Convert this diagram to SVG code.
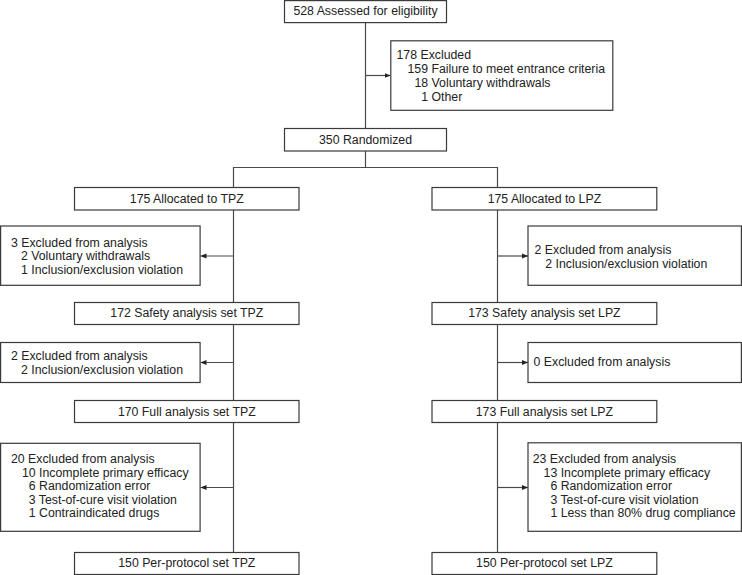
<svg xmlns="http://www.w3.org/2000/svg" width="742" height="575" viewBox="0 0 742 575">
<defs>
<style>
.box{fill:#fff;stroke:#3a3a3a;stroke-width:1.2}
.ln{fill:none;stroke:#4a4a4a;stroke-width:1.2}
.t{font-family:"Liberation Sans",Arial,sans-serif;font-size:12.3px;fill:#222}
.c{text-anchor:middle}
</style>
<marker id="ah" viewBox="0 0 6 6" refX="6" refY="3" markerWidth="6" markerHeight="6" markerUnits="userSpaceOnUse" orient="auto">
<path d="M0,0.5 L6,3 L0,5.5 z" fill="#222"/>
</marker>
</defs>
<rect width="742" height="575" fill="#fff"/>
<g id="connectors">
<line class="ln" x1="365.5" y1="22.5" x2="365.5" y2="128.5"/>
<line class="ln" x1="365.5" y1="75.5" x2="390.5" y2="75.5" marker-end="url(#ah)"/>
<line class="ln" x1="365.5" y1="151" x2="365.5" y2="167.5"/>
<polyline class="ln" points="233.5,187.5 233.5,167.5 497.5,167.5 497.5,187.5"/>
<line class="ln" x1="233.5" y1="210" x2="233.5" y2="302.5"/>
<line class="ln" x1="233.5" y1="256" x2="200.5" y2="256" marker-end="url(#ah)"/>
<line class="ln" x1="497.5" y1="210" x2="497.5" y2="302.5"/>
<line class="ln" x1="497.5" y1="256" x2="528" y2="256" marker-end="url(#ah)"/>
<line class="ln" x1="233.5" y1="324.5" x2="233.5" y2="400.5"/>
<line class="ln" x1="233.5" y1="362.5" x2="200.5" y2="362.5" marker-end="url(#ah)"/>
<line class="ln" x1="497.5" y1="324.5" x2="497.5" y2="400.5"/>
<line class="ln" x1="497.5" y1="362.5" x2="528" y2="362.5" marker-end="url(#ah)"/>
<line class="ln" x1="233.5" y1="422.5" x2="233.5" y2="552.5"/>
<line class="ln" x1="233.5" y1="487.5" x2="200.5" y2="487.5" marker-end="url(#ah)"/>
<line class="ln" x1="497.5" y1="422.5" x2="497.5" y2="552.5"/>
<line class="ln" x1="497.5" y1="487.5" x2="528" y2="487.5" marker-end="url(#ah)"/>
</g>
<g id="assessed">
<rect class="box" x="284.5" y="0.6" width="162" height="22"/>
<text class="t c" x="365.5" y="15.2">528 Assessed for eligibility</text>
</g>
<g id="excluded-top">
<rect class="box" x="390.8" y="40.8" width="222" height="69.5"/>
<text class="t" x="396.5" y="58.7">178 Excluded</text>
<text class="t" x="407.5" y="72.8">159 Failure to meet entrance criteria</text>
<text class="t" x="414.5" y="86.9">18 Voluntary withdrawals</text>
<text class="t" x="421.3" y="101">1 Other</text>
</g>
<g id="randomized">
<rect class="box" x="284.5" y="128.5" width="162" height="22.5"/>
<text class="t c" x="365.5" y="144.4">350 Randomized</text>
</g>
<g id="alloc-tpz">
<rect class="box" x="74.5" y="187.5" width="224.5" height="22.5"/>
<text class="t c" x="186.8" y="203">175 Allocated to TPZ</text>
</g>
<g id="alloc-lpz">
<rect class="box" x="432" y="187.5" width="224.8" height="22.5"/>
<text class="t c" x="544.4" y="203">175 Allocated to LPZ</text>
</g>
<g id="excl1-tpz">
<rect class="box" x="0.6" y="226" width="199.5" height="59.3"/>
<text class="t" x="11" y="246.7">3 Excluded from analysis</text>
<text class="t" x="21" y="260.2">2 Voluntary withdrawals</text>
<text class="t" x="21" y="273.7">1 Inclusion/exclusion violation</text>
</g>
<g id="excl1-lpz">
<rect class="box" x="528" y="226" width="213.4" height="59.3"/>
<text class="t" x="534.6" y="253.7">2 Excluded from analysis</text>
<text class="t" x="545.3" y="267.7">2 Inclusion/exclusion violation</text>
</g>
<g id="safety-tpz">
<rect class="box" x="74.5" y="302.5" width="224.5" height="22"/>
<text class="t c" x="186.8" y="317">172 Safety analysis set TPZ</text>
</g>
<g id="safety-lpz">
<rect class="box" x="432" y="302.5" width="224.8" height="22"/>
<text class="t c" x="544.4" y="317">173 Safety analysis set LPZ</text>
</g>
<g id="excl2-tpz">
<rect class="box" x="0.6" y="342.5" width="199.5" height="40"/>
<text class="t" x="11" y="360">2 Excluded from analysis</text>
<text class="t" x="21" y="373.6">2 Inclusion/exclusion violation</text>
</g>
<g id="excl2-lpz">
<rect class="box" x="528" y="342.5" width="213.4" height="40"/>
<text class="t" x="533.6" y="366">0 Excluded from analysis</text>
</g>
<g id="full-tpz">
<rect class="box" x="74.5" y="400.5" width="224.5" height="22"/>
<text class="t c" x="186.8" y="416.4">170 Full analysis set TPZ</text>
</g>
<g id="full-lpz">
<rect class="box" x="432" y="400.5" width="224.8" height="22"/>
<text class="t c" x="544.4" y="416.4">173 Full analysis set LPZ</text>
</g>
<g id="excl3-tpz">
<rect class="box" x="0.6" y="443.3" width="199.5" height="88"/>
<text class="t" x="11" y="463.4">20 Excluded from analysis</text>
<text class="t" x="22" y="476.9">10 Incomplete primary efficacy</text>
<text class="t" x="28.8" y="490.4">6 Randomization error</text>
<text class="t" x="28.8" y="503.9">3 Test-of-cure visit violation</text>
<text class="t" x="28.8" y="517.4">1 Contraindicated drugs</text>
</g>
<g id="excl3-lpz">
<rect class="box" x="528" y="442.8" width="213.4" height="88.5"/>
<text class="t" x="532.7" y="463.4">23 Excluded from analysis</text>
<text class="t" x="543.6" y="476.9">13 Incomplete primary efficacy</text>
<text class="t" x="550.4" y="490.4">6 Randomization error</text>
<text class="t" x="550.4" y="503.9">3 Test-of-cure visit violation</text>
<text class="t" x="550.4" y="517.4">1 Less than 80% drug compliance</text>
</g>
<g id="pp-tpz">
<rect class="box" x="74.5" y="552.5" width="224.5" height="22"/>
<text class="t c" x="186.8" y="567">150 Per-protocol set TPZ</text>
</g>
<g id="pp-lpz">
<rect class="box" x="432" y="552.5" width="224.8" height="22"/>
<text class="t c" x="544.4" y="567">150 Per-protocol set LPZ</text>
</g>
</svg>
